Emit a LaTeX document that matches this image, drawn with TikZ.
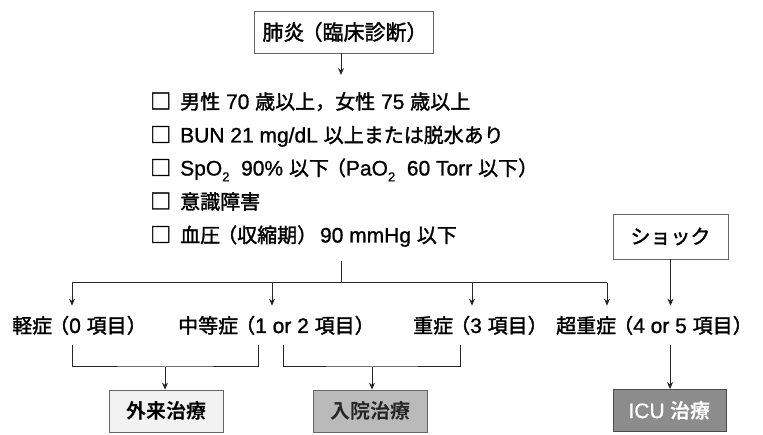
\documentclass[tikz,border=0pt]{standalone}
\usepackage{fontspec}
\setmainfont{Noto Sans CJK JP}[FakeBold=1.6]
\newfontfamily\jpbold{Noto Sans CJK JP Bold}
\newfontfamily\latfont{Liberation Sans}[FakeBold=1.0]
\usetikzlibrary{arrows.meta}
\newcommand\la[1]{{\fontsize{21}{24}\latfont #1}}
\newcommand\lowtwo{\raisebox{-0.28em}{\fontsize{13}{13}\latfont 2}}
\newcommand\cbox{{\fontsize{21}{24}\selectfont □}\hspace{9pt}}
\newcommand\lp{\kern-3pt（}
\newcommand\rp{）\kern-3pt}
\begin{document}
\begin{tikzpicture}[x=1pt,y=-1pt,
  every node/.style={font=\fontsize{20}{24}\selectfont, inner sep=0pt},
  conn/.style={line width=1pt, draw=black!85},
  arr/.style={conn, -{Stealth[length=7pt,width=6pt]}},
  framebox/.style={draw=black!60, line width=0.8pt, minimum height=42pt},
  item/.style={anchor=base west},
  lab/.style={anchor=base west},
  treat/.style={framebox, minimum width=114pt, font=\fontsize{20}{24}\jpbold}]
\useasboundingbox (0,0) rectangle (763,435);

% top
\node[framebox, minimum width=179pt, font=\fontsize{21}{24}\selectfont] (top) at (343.5,32) {肺炎\lp 臨床診断\rp};
\coordinate (t1) at (341,75);
\draw[arr] (top.south -| t1) -- (t1);

% checklist
\node[item] (c1) at (150,109) {\cbox 男性\la{ 70 }歳以上，女性\la{ 75 }歳以上};
\node[item] (c2) at (150,142.5) {\cbox\la{BUN 21 mg/dL }以上または脱水あり};
\node[item] (c3) at (150,175.5) {\cbox\la{SpO\lowtwo\ \ 90\% }以下\lp\la{PaO\lowtwo\ \ 60 Torr }以下\rp};
\node[item] (c4) at (150,209) {\cbox 意識障害};
\node[item] (c5) at (150,242.5) {\cbox 血圧\lp 収縮期\rp\la{ 90 mmHg }以下};

% shock
\node[framebox, minimum width=115pt, minimum height=45pt] (shock) at (670.5,236.5) {ショック};

% distribution
\coordinate (m0) at (341,261);
\coordinate (m1) at (341,283);
\coordinate (j1) at (72,283);
\coordinate (j2) at (272,283);
\coordinate (j3) at (472,283);
\coordinate (j4) at (607,283);
\draw[conn] (m0) -- (m1);
\draw[conn] (j1) -- (j4);

\node[lab] (l1) at (12,333) {軽症\lp\la{0 }項目\rp};
\node[lab] (l2) at (178,333) {中等症\lp\la{1 or 2 }項目\rp};
\node[lab] (l3) at (413,333) {重症\lp\la{3 }項目\rp};
\node[lab] (l4) at (556,333) {超重症\lp\la{4 or 5 }項目\rp};

\draw[arr, shorten >=10pt] (j1) -- (j1 |- l1.north);
\draw[arr, shorten >=10pt] (j2) -- (j2 |- l2.north);
\draw[arr, shorten >=10pt] (j3) -- (j3 |- l3.north);
\draw[arr, shorten >=10pt] (j4) -- (j4 |- l4.north);
\draw[arr, shorten >=10pt] (shock.south) -- (shock.south |- l4.north);

% treatment boxes
\node[treat, fill=black!5] (gairai) at (166,411) {外来治療};
\node[treat, fill=black!27, text=black!85] (nyuin) at (370.5,411) {入院治療};
\node[treat, fill=black!45, text=white, draw=black!70, minimum width=113pt] (icu) at (669.5,410.5) {\la{ICU }治療};

% brackets
\coordinate (b1a) at (72,345);
\coordinate (b1m) at (165,367);
\coordinate (b1b) at (258,345);
\draw[conn] (b1a) |- (b1m) -| (b1b);
\draw[arr] (b1m) -- (b1m |- gairai.north);

\coordinate (b2a) at (283,345);
\coordinate (b2m) at (372,367);
\coordinate (b2b) at (460,345);
\draw[conn] (b2a) |- (b2m) -| (b2b);
\draw[arr] (b2m) -- (b2m |- nyuin.north);

\coordinate (c4a) at (670,345);
\draw[arr] (c4a) -- (c4a |- icu.north);
\end{tikzpicture}
\end{document}
